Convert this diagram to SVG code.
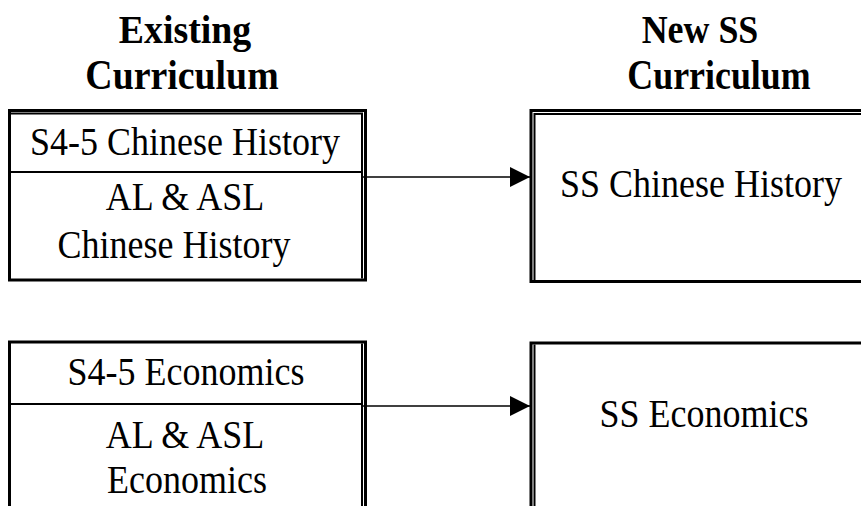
<svg xmlns="http://www.w3.org/2000/svg" width="861" height="506" viewBox="0 0 861 506">
<style>
  .t { font-family: "Liberation Serif", "Times New Roman", serif; font-size: 36px; fill: #000; text-anchor: middle; }
  .h { font-family: "Liberation Serif", "Times New Roman", serif; font-size: 39px; font-weight: bold; fill: #000; text-anchor: middle; }
  .frame { fill: #fff; stroke: #000; stroke-width: 3; }
  .inner { fill: none; stroke: #000; stroke-width: 2; }
  .div { stroke: #000; stroke-width: 2; }
  .conn { stroke: #000; stroke-width: 1.5; fill: none; }
</style>
<defs>
  <marker id="arrow" markerUnits="userSpaceOnUse" markerWidth="20" markerHeight="20" refX="20" refY="10" orient="auto">
    <path d="M0,0 L20,10 L0,20 Z" fill="#000"/>
  </marker>
</defs>
<rect width="861" height="506" fill="#fff"/>
<g id="header-existing">
  <text class="h" transform="translate(185,43) scale(0.97,1.04)">Existing</text>
  <text class="h" transform="translate(182,89) scale(0.97,1.06)">Curriculum</text>
</g>
<g id="header-new">
  <text class="h" transform="translate(700,43) scale(0.92,1.04)">New SS</text>
  <text class="h" transform="translate(719,89) scale(0.92,1.06)">Curriculum</text>
</g>
<g id="existing-chinese-history">
  <rect class="frame" x="9.5" y="110.5" width="356" height="169.5"/>
  <polyline class="inner" points="11,113.5 362,113.5 362,278.5"/>
  <line class="div" x1="11" y1="172" x2="362" y2="172"/>
  <text class="t" transform="translate(185,155) scale(1,1.12)">S4-5 Chinese History</text>
  <text class="t" transform="translate(185,210) scale(1,1.12)">AL &amp; ASL</text>
  <text class="t" transform="translate(174,258) scale(1,1.12)">Chinese History</text>
</g>
<g id="new-chinese-history">
  <rect class="frame" x="531" y="110.5" width="340" height="171"/>
  <polyline class="inner" points="534.5,280 534.5,114 872,114"/>
  <text class="t" transform="translate(701,197) scale(1,1.12)">SS Chinese History</text>
</g>
<g id="existing-economics">
  <rect class="frame" x="9.5" y="342" width="356" height="180"/>
  <line class="inner" x1="362" y1="343.5" x2="362" y2="520"/>
  <line class="div" x1="11" y1="404" x2="362" y2="404"/>
  <text class="t" transform="translate(186,385) scale(1,1.12)">S4-5 Economics</text>
  <text class="t" transform="translate(185,448) scale(1,1.12)">AL &amp; ASL</text>
  <text class="t" transform="translate(187,493) scale(1,1.12)">Economics</text>
</g>
<g id="new-economics">
  <rect class="frame" x="531" y="343" width="340" height="180"/>
  <line class="inner" x1="534.5" y1="344.5" x2="534.5" y2="520"/>
  <text class="t" transform="translate(704,427) scale(1,1.12)">SS Economics</text>
</g>
<g id="connectors">
  <line class="conn" x1="362" y1="177" x2="530" y2="177" marker-end="url(#arrow)"/>
  <line class="conn" x1="362" y1="406" x2="530" y2="406" marker-end="url(#arrow)"/>
</g>
</svg>
